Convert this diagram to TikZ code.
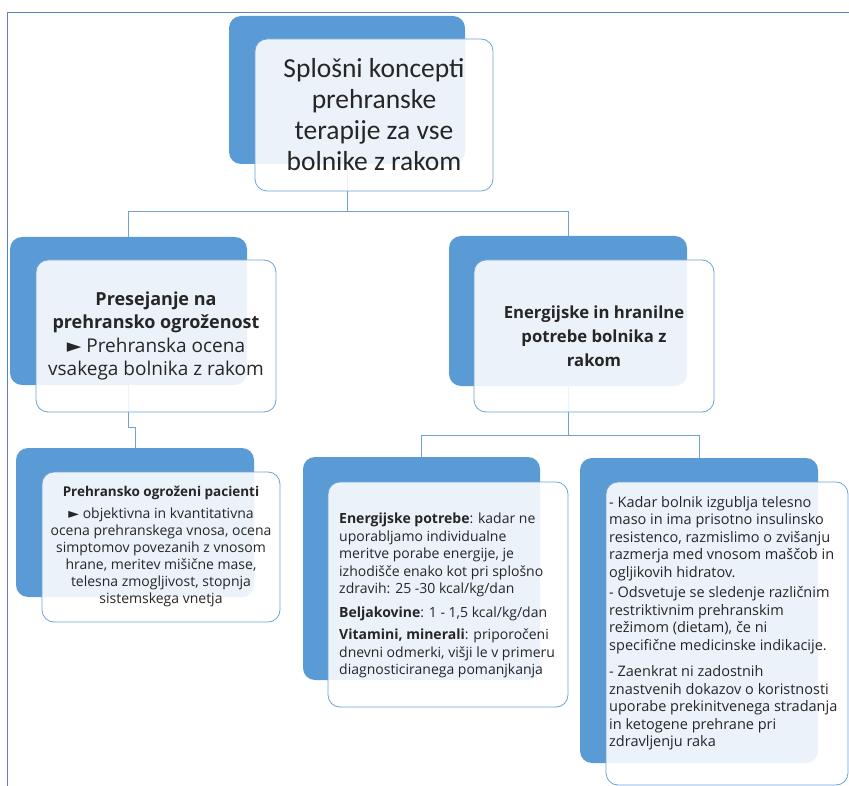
\documentclass[tikz,border=0pt]{standalone}
\usepackage{fontspec}
\setmainfont{Carlito}
\newfontfamily\bodyfont{Open Sans}
\newfontfamily\trifont{DejaVu Sans}
\definecolor{backblue}{HTML}{5B9BD5}
\definecolor{lineblue}{HTML}{6FA3D8}
\definecolor{frameblue}{HTML}{5A82D2}
\newcommand{\tri}{{\trifont ►}}

\begin{document}
\begin{tikzpicture}[x=1pt, y=-1pt,
    backbox/.style={fill=backblue, rounded corners=12pt, inner sep=0pt},
    frontbox/.style={draw=lineblue, line width=0.8pt, fill=white, fill opacity=0.88,
      text opacity=1, text=black!85, rounded corners=12pt, inner sep=0pt},
    conn/.style={draw=lineblue, line width=0.9pt},
    bodytext/.style={text=black!85, inner sep=0pt, align=left,
      font=\bodyfont\fontsize{14.5}{17.5}\selectfont}]
    \useasboundingbox (0,0) rectangle (849,786);

    % outer frame
    \draw[frameblue, line width=0.9pt] (7,786) -- (7,12) -- (849,12);

    % dark back boxes
    \node[backbox, minimum width=236pt, minimum height=148pt] (topB) at (347,90) {};
    \node[backbox, minimum width=237pt, minimum height=148pt] (leftB) at (128.5,311) {};
    \node[backbox, minimum width=238pt, minimum height=150pt] (rightB) at (568,311) {};
    \node[backbox, minimum width=238pt, minimum height=149pt] (blB) at (135,522.5) {};
    \node[backbox, minimum width=237pt, minimum height=223pt] (bmB) at (421.5,568.5) {};
    \node[backbox, minimum width=238pt, minimum height=305pt] (brB) at (699,610.5) {};

    % connectors
    \coordinate (j1) at (347,211);
    \coordinate (j2) at (568,435);
    \draw[conn] (topB.south) -- (j1) -| (leftB.north);
    \draw[conn] (j1) -| (rightB.north);
    \draw[conn] (leftB.south) -- ++(0,42) -| (blB.north);
    \draw[conn] (rightB.south) -- (j2) -| (bmB.north);
    \draw[conn] (j2) -| (brB.north);

    % light front boxes
    \node[frontbox, minimum width=238pt, minimum height=152pt, align=center,
      font=\fontsize{27.5}{31}\selectfont] (topF) at (374,115)
      {Splošni koncepti\\prehranske\\terapije za vse\\bolnike z rakom};
    \node[frontbox, minimum width=240pt, minimum height=152pt, align=center,
      font=\bodyfont\fontsize{19}{23.3}\selectfont] (leftF) at (156,336)
      {{\fontsize{18}{23.3}\selectfont\bfseries Presejanje na}\\{\fontsize{18}{23.3}\selectfont\bfseries prehransko ogroženost}\\\tri{} Prehranska ocena\\vsakega bolnika z rakom};
    \node[frontbox, minimum width=240pt, minimum height=152pt, align=center,
      font=\bodyfont\bfseries\fontsize{16.7}{24}\selectfont] (rightF) at (594,336)
      {Energijske in hranilne\\potrebe bolnika z\\rakom};
    \node[frontbox, minimum width=238pt, minimum height=150pt, align=center,
      font=\bodyfont\fontsize{14}{17}\selectfont] (blF) at (161,547)
      {{\fontsize{13.5}{17}\selectfont\bfseries Prehransko ogroženi pacienti}\\[5pt]\tri{} objektivna in kvantitativna\\ocena prehranskega vnosa, ocena\\simptomov povezanih z vnosom\\hrane, meritev mišične mase,\\telesna zmogljivost, stopnja\\sistemskega vnetja};
    \node[frontbox, minimum width=240pt, minimum height=225pt] (bmF) at (448,594.5) {};
    \node[frontbox, minimum width=242pt, minimum height=303pt] (brF) at (727,633.5) {};

    \node[bodytext, anchor=north west, font=\bodyfont\fontsize{14}{17.5}\selectfont] (bmT) at (339,513)
      {\textbf{Energijske potrebe}: kadar ne\\uporabljamo individualne\\meritve porabe energije, je\\izhodišče enako kot pri splošno\\zdravih: 25 -30 kcal/kg/dan\\[6pt]
       \textbf{Beljakovine}: 1 - 1,5 kcal/kg/dan\\[5pt]
       \textbf{Vitamini, minerali}: priporočeni\\dnevni odmerki, višji le v primeru\\diagnosticiranega pomanjkanja};
    \node[bodytext, anchor=north west] (brT) at (609,496)
      {- Kadar bolnik izgublja telesno\\maso in ima prisotno insulinsko\\resistenco, razmislimo o zvišanju\\razmerja med vnosom maščob in\\ogljikovih hidratov.\\[3pt]
       - Odsvetuje se sledenje različnim\\restriktivnim prehranskim\\režimom (dietam), če ni\\specifične medicinske indikacije.\\[9pt]
       - Zaenkrat ni zadostnih\\znastvenih dokazov o koristnosti\\uporabe prekinitvenega stradanja\\in ketogene prehrane pri\\zdravljenju raka};
\end{tikzpicture}
\end{document}
